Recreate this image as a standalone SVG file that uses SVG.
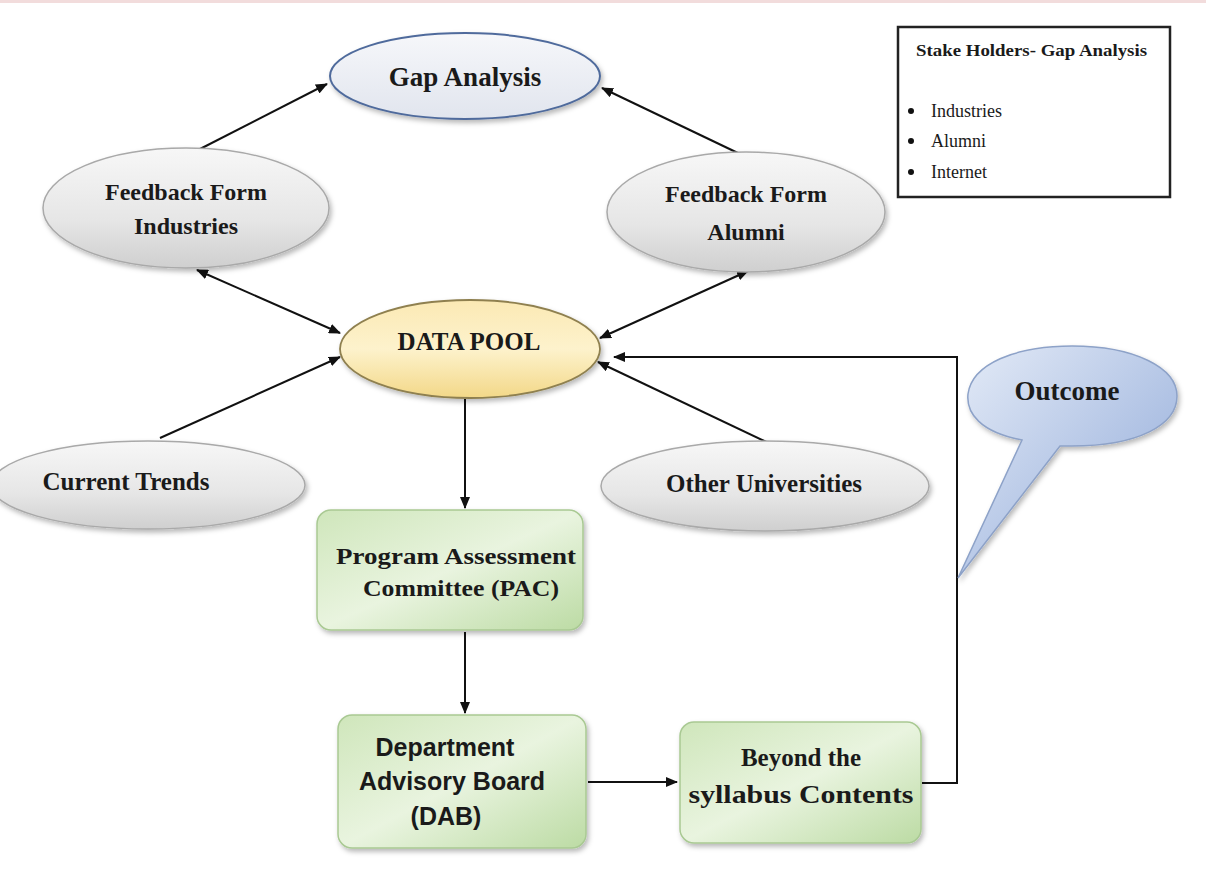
<svg xmlns="http://www.w3.org/2000/svg" width="1206" height="890" viewBox="0 0 1206 890">
  <defs>
    <linearGradient id="gGray" x1="0" y1="0" x2="0" y2="1">
      <stop offset="0" stop-color="#f7f7f7"/>
      <stop offset="0.6" stop-color="#e6e6e6"/>
      <stop offset="1" stop-color="#cfcfcf"/>
    </linearGradient>
    <linearGradient id="gBlueWhite" x1="0" y1="0" x2="0" y2="1">
      <stop offset="0" stop-color="#f6f7fa"/>
      <stop offset="1" stop-color="#e1e5ee"/>
    </linearGradient>
    <linearGradient id="gYellow" x1="0" y1="0" x2="0" y2="1">
      <stop offset="0" stop-color="#fbe9b4"/>
      <stop offset="0.5" stop-color="#fdf2cc"/>
      <stop offset="1" stop-color="#f3d888"/>
    </linearGradient>
    <linearGradient id="gGreen" x1="0" y1="0" x2="1" y2="1">
      <stop offset="0" stop-color="#cfe6bb"/>
      <stop offset="0.5" stop-color="#e9f4df"/>
      <stop offset="1" stop-color="#bcdba4"/>
    </linearGradient>
    <linearGradient id="gOutcome" x1="0" y1="0" x2="1" y2="1">
      <stop offset="0" stop-color="#e4ebf7"/>
      <stop offset="1" stop-color="#8ea8d8"/>
    </linearGradient>
    <filter id="shadow" x="-10%" y="-10%" width="125%" height="130%">
      <feDropShadow dx="2" dy="3" stdDeviation="2.5" flood-color="#000" flood-opacity="0.28"/>
    </filter>
    <marker id="arrow" viewBox="0 0 12 10" refX="11" refY="5" markerWidth="12" markerHeight="10" markerUnits="userSpaceOnUse" orient="auto-start-reverse">
      <path d="M0,0 L12,5 L0,10 Z" fill="#111"/>
    </marker>
    <style>
      .ser { font-family: "Liberation Serif", "Times New Roman", serif; font-weight: bold; fill: #1a1a1a; text-anchor: middle; }
      .sans { font-family: "Liberation Sans", Arial, sans-serif; font-weight: bold; fill: #1a1a1a; text-anchor: middle; }
      .leg { font-family: "Liberation Serif", "Times New Roman", serif; fill: #1a1a1a; }
      .conn { stroke: #111; stroke-width: 2; fill: none; }
      .grayEl { fill: url(#gGray); stroke: #a9a9a9; stroke-width: 1.5; }
      .greenBox { fill: url(#gGreen); stroke: #a9c993; stroke-width: 1.5; }
    </style>
  </defs>

  <rect x="0" y="0" width="1206" height="890" fill="#ffffff"/>
  <rect x="0" y="0" width="1206" height="3" fill="#f2dcdc"/>

  <!-- connectors -->
  <g id="connectors">
    <line class="conn" x1="200" y1="149" x2="327" y2="84" marker-end="url(#arrow)"/>
    <line class="conn" x1="740" y1="154" x2="602" y2="88" marker-end="url(#arrow)"/>
    <line class="conn" x1="197" y1="270" x2="340" y2="333" marker-start="url(#arrow)" marker-end="url(#arrow)"/>
    <line class="conn" x1="748" y1="271" x2="600" y2="338" marker-start="url(#arrow)" marker-end="url(#arrow)"/>
    <line class="conn" x1="160" y1="438" x2="340" y2="357" marker-end="url(#arrow)"/>
    <line class="conn" x1="775" y1="446" x2="598" y2="362" marker-end="url(#arrow)"/>
    <line class="conn" x1="465" y1="399" x2="465" y2="508" marker-end="url(#arrow)"/>
    <line class="conn" x1="465" y1="632" x2="465" y2="713" marker-end="url(#arrow)"/>
    <line class="conn" x1="588" y1="782" x2="677" y2="782" marker-end="url(#arrow)"/>
    <polyline class="conn" points="922,783 957,783 957,357 614,357" marker-end="url(#arrow)"/>
  </g>

  <!-- Gap Analysis -->
  <g id="gap-analysis">
    <ellipse cx="465" cy="76" rx="135" ry="43" fill="url(#gBlueWhite)" stroke="#4f6b9c" stroke-width="2" filter="url(#shadow)"/>
    <text class="ser" x="465" y="86" font-size="27">Gap Analysis</text>
  </g>

  <!-- Legend -->
  <g id="legend">
    <rect x="898" y="27" width="272" height="170" fill="#ffffff" stroke="#222" stroke-width="2.5"/>
    <text class="leg" x="916" y="56" font-size="17" font-weight="bold" textLength="231" lengthAdjust="spacingAndGlyphs">Stake Holders- Gap Analysis</text>
    <circle cx="911" cy="111" r="3" fill="#111"/>
    <text class="leg" x="931" y="117" font-size="18">Industries</text>
    <circle cx="911" cy="141" r="3" fill="#111"/>
    <text class="leg" x="931" y="147" font-size="18">Alumni</text>
    <circle cx="911" cy="172" r="3" fill="#111"/>
    <text class="leg" x="931" y="178" font-size="18">Internet</text>
  </g>

  <!-- Feedback Form Industries -->
  <g id="feedback-industries">
    <ellipse class="grayEl" cx="186" cy="208" rx="143" ry="60" filter="url(#shadow)"/>
    <text class="ser" x="186" y="200" font-size="24">Feedback Form</text>
    <text class="ser" x="186" y="234" font-size="24">Industries</text>
  </g>

  <!-- Feedback Form Alumni -->
  <g id="feedback-alumni">
    <ellipse class="grayEl" cx="746" cy="212" rx="139" ry="60" filter="url(#shadow)"/>
    <text class="ser" x="746" y="202" font-size="24">Feedback Form</text>
    <text class="ser" x="746" y="240" font-size="24">Alumni</text>
  </g>

  <!-- Data Pool -->
  <g id="data-pool">
    <ellipse cx="470" cy="349" rx="130" ry="49" fill="url(#gYellow)" stroke="#8f8050" stroke-width="1.8" filter="url(#shadow)"/>
    <text class="ser" x="469" y="350" font-size="25">DATA POOL</text>
  </g>

  <!-- Current Trends -->
  <g id="current-trends">
    <ellipse class="grayEl" cx="148" cy="485" rx="157" ry="44" filter="url(#shadow)"/>
    <text class="ser" x="126" y="490" font-size="25">Current Trends</text>
  </g>

  <!-- Other Universities -->
  <g id="other-universities">
    <ellipse class="grayEl" cx="765" cy="486" rx="164" ry="45" filter="url(#shadow)"/>
    <text class="ser" x="764" y="492" font-size="25">Other Universities</text>
  </g>

  <!-- Program Assessment Committee -->
  <g id="pac">
    <rect class="greenBox" x="317" y="510" width="266" height="120" rx="14" filter="url(#shadow)"/>
    <text class="ser" x="456" y="564" font-size="23" textLength="240" lengthAdjust="spacingAndGlyphs">Program Assessment</text>
    <text class="ser" x="461" y="596" font-size="23" textLength="196" lengthAdjust="spacingAndGlyphs">Committee (PAC)</text>
  </g>

  <!-- Department Advisory Board -->
  <g id="dab">
    <rect class="greenBox" x="338" y="715" width="248" height="133" rx="14" filter="url(#shadow)"/>
    <text class="sans" x="445" y="756" font-size="25">Department</text>
    <text class="sans" x="452" y="790" font-size="25">Advisory Board</text>
    <text class="sans" x="446" y="825" font-size="25">(DAB)</text>
  </g>

  <!-- Beyond the syllabus Contents -->
  <g id="beyond-syllabus">
    <rect class="greenBox" x="680" y="722" width="241" height="121" rx="14" filter="url(#shadow)"/>
    <text class="ser" x="801" y="766" font-size="25">Beyond the</text>
    <text class="ser" x="801" y="803" font-size="25" textLength="225" lengthAdjust="spacingAndGlyphs">syllabus Contents</text>
  </g>

  <!-- Outcome callout -->
  <g id="outcome">
    <path d="M1022,440 C980,432 966,413 968,394 C972,364 1015,346 1072,346 C1135,346 1177,368 1177,396 C1177,425 1138,446 1072,446 L1060,446 L958,578 Z"
          fill="url(#gOutcome)" stroke="#8da2c8" stroke-width="1.5" filter="url(#shadow)"/>
    <text class="ser" x="1067" y="400" font-size="27">Outcome</text>
  </g>
</svg>
